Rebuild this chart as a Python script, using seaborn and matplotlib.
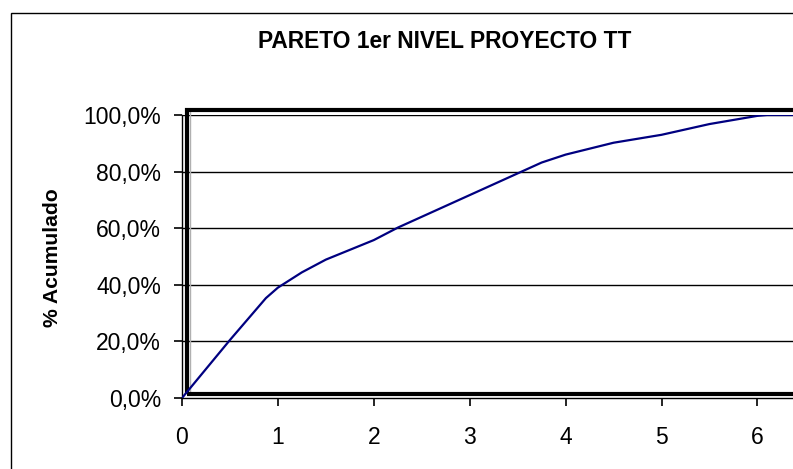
import matplotlib
matplotlib.use("Agg")
import matplotlib.pyplot as plt
from matplotlib.patches import Rectangle
from matplotlib.ticker import FuncFormatter
import seaborn as sns
import pandas as pd

# Cumulative Pareto curve (x position, cumulative percentage)
x_vals = [0, 0.5, 0.875, 1.0, 1.25, 1.5, 2.0, 2.25, 3.75, 4.0, 4.5, 5.0, 5.5, 6.0, 6.1, 7.0]
cum_pct = [0, 20.5, 35.3, 39.0, 44.4, 48.9, 55.8, 60.2, 83.2, 86.0, 90.2, 93.0, 96.8, 99.7, 100.0, 100.0]
x_ticks = [0, 1, 2, 3, 4, 5, 6]
y_ticks = [0, 20, 40, 60, 80, 100]

title = "PARETO 1er NIVEL PROYECTO TT"
y_label = "% Acumulado"

sns.set_theme(style="white")
plt.rcParams["font.family"] = ["Liberation Sans", "DejaVu Sans"]

W, H = 793, 469
fig = plt.figure(figsize=(W / 100, H / 100), dpi=100)
fig.patch.set_facecolor("white")

# plot area in pixel terms: x=0 at 182px, 1 unit = 95.9px; y 0..100 from 398px to 115px
x0, unit = 182, 95.9
y_top, y_bot = 115, 398
ax = fig.add_axes([x0 / W, 1 - y_bot / H, 7 * unit / W, (y_bot - y_top) / H])

df = pd.DataFrame({"x": x_vals, "pct": cum_pct})
sns.lineplot(data=df, x="x", y="pct", ax=ax, color="#000080", linewidth=1.6, zorder=5)

ax.set_xlim(0, 7)
ax.set_ylim(0, 100)
ax.set_xticks(x_ticks)
ax.set_yticks(y_ticks)
ax.yaxis.set_major_formatter(FuncFormatter(lambda v, p: f"{v:.1f}%".replace(".", ",")))
ax.set_xlabel("")
ax.set_ylabel("")

ax.grid(False)
for v in y_ticks[1:]:
    ax.axhline(v, color="black", linewidth=1.0, zorder=1)

for side in ["top", "right"]:
    ax.spines[side].set_visible(False)
for side in ["left", "bottom"]:
    ax.spines[side].set_color("black")
    ax.spines[side].set_linewidth(1.0)

ax.tick_params(axis="both", which="major", direction="out", length=6.0, width=1.2,
               colors="black", labelsize=16.5, left=True, bottom=True)
ax.tick_params(axis="y", pad=9)
ax.tick_params(axis="x", pad=14)

# heavy plot-area border, slightly offset from the axis lines
pw, ph = 7 * unit, (y_bot - y_top)
left_f = (186.7 - x0) / pw
bot_f = (y_bot - 393.7) / ph
top_f = (y_bot - 110.3) / ph
ax.add_patch(Rectangle((left_f, bot_f), 1.2, top_f - bot_f, transform=ax.transAxes,
                       fill=False, edgecolor="black", linewidth=3.0, clip_on=False, zorder=4))
ax.plot([(189.5 - x0) / pw] * 2, [bot_f, top_f], transform=ax.transAxes,
        color="#b0b0b0", linewidth=1.0, clip_on=False, zorder=3)

# outer chart frame
fig.add_artist(Rectangle((10.5 / W, -0.1), 1.2, 1 - 13 / H + 0.1, transform=fig.transFigure,
                         fill=False, edgecolor="black", linewidth=1.0))

fig.text(445 / W, 1 - 42 / H, title, ha="center", va="center",
         fontsize=16.4, fontweight="bold", color="black")
fig.text(52 / W, 1 - 258 / H, y_label, ha="center", va="center", rotation=90,
         fontsize=15.2, fontweight="bold", color="black")

fig.savefig("out.png", dpi=100, facecolor="white")
